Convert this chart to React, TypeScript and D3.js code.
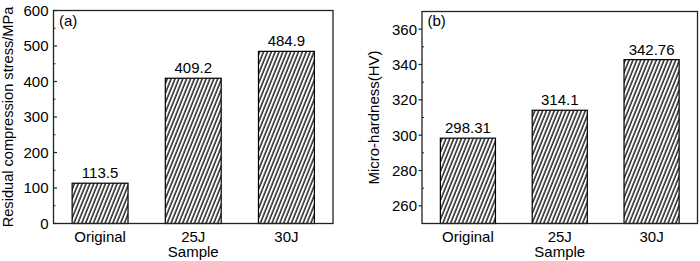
import * as d3 from 'd3';

const samples = ['Original', '25J', '30J'];
const stressValues = [113.5, 409.2, 484.9];
const stressLabels = ['113.5', '409.2', '484.9'];
const hardnessValues = [298.31, 314.1, 342.76];
const hardnessLabels = ['298.31', '314.1', '342.76'];
const stressTicks = [0, 100, 200, 300, 400, 500, 600];
const stressMinor = [50, 150, 250, 350, 450, 550];
const hardnessTicks = [260, 280, 300, 320, 340, 360];
const hardnessMinor = [250, 270, 290, 310, 330, 350, 370];

const FONT = '"Liberation Sans", Arial, sans-serif';

interface PanelProps {
  tag: string;
  left: number;
  right: number;
  top: number;
  bottom: number;
  domain: [number, number];
  values: number[];
  labels: string[];
  ticks: number[];
  minor: number[];
  tickOut: boolean;
  yTitle: string;
  yTitleX: number;
  yTitleSize: number;
}

function Panel(p: PanelProps) {
  const x = d3.scaleBand<string>()
    .domain(samples)
    .range([p.left, p.right])
    .paddingInner(0.4)
    .paddingOuter(0.2);
  const y = d3.scaleLinear().domain(p.domain).range([p.bottom, p.top]);
  const dir = p.tickOut ? -1 : 1;
  const midY = (p.top + p.bottom) / 2;

  return (
    <g fontFamily={FONT} fontSize={15} fill="#000">
      {samples.map((s, i) => (
        <g key={s}>
          <rect
            x={x(s)}
            y={y(p.values[i])}
            width={x.bandwidth()}
            height={y(p.domain[0]) - y(p.values[i])}
            fill="url(#hatch)"
            stroke="#000"
            strokeWidth={1.2}
          />
          <text x={x(s)! + x.bandwidth() / 2} y={y(p.values[i]) - 5} textAnchor="middle">
            {p.labels[i]}
          </text>
          <text x={x(s)! + x.bandwidth() / 2} y={241.5} textAnchor="middle">{s}</text>
        </g>
      ))}
      {p.ticks.map((t) => (
        <g key={t}>
          <line x1={p.left} x2={p.left + dir * 3.5} y1={y(t)} y2={y(t)} stroke="#222" strokeWidth={1.2} />
          <text x={p.left - 5} y={y(t)} dy="0.36em" textAnchor="end">{t}</text>
        </g>
      ))}
      {p.minor.map((t) => (
        <line key={t} x1={p.left} x2={p.left + 2} y1={y(t)} y2={y(t)} stroke="#222" strokeWidth={1} />
      ))}
      <rect
        x={p.left}
        y={p.top}
        width={p.right - p.left}
        height={p.bottom - p.top}
        fill="none"
        stroke="#222"
        strokeWidth={1.3}
      />
      <text x={p.left + 5.5} y={26}>{p.tag}</text>
      <text x={(p.left + p.right) / 2} y={257} textAnchor="middle">Sample</text>
      <text
        transform={`translate(${p.yTitleX},${midY}) rotate(-90)`}
        textAnchor="middle"
        fontSize={p.yTitleSize}
      >
        {p.yTitle}
      </text>
    </g>
  );
}

export default function App() {
  return (
    <div style={{ position: 'fixed', left: 0, top: 0 }}>
      <svg width={700} height={261} style={{ display: 'block', background: '#fff' }}>
        <defs>
          <pattern id="hatch" width={3.6} height={10} patternUnits="userSpaceOnUse" patternTransform="rotate(22)">
            <line x1={1} x2={1} y1={0} y2={10} stroke="#000" strokeWidth={1.3} />
          </pattern>
        </defs>
        <Panel
          tag="(a)"
          left={53.5}
          right={333}
          top={10.5}
          bottom={223.5}
          domain={[0, 600]}
          values={stressValues}
          labels={stressLabels}
          ticks={stressTicks}
          minor={stressMinor}
          tickOut={false}
          yTitle="Residual compression stress/MPa"
          yTitleX={13}
          yTitleSize={14.6}
        />
        <Panel
          tag="(b)"
          left={422}
          right={697.5}
          top={11.5}
          bottom={223.5}
          domain={[250, 370]}
          values={hardnessValues}
          labels={hardnessLabels}
          ticks={hardnessTicks}
          minor={hardnessMinor}
          tickOut={true}
          yTitle="Micro-hardness(HV)"
          yTitleX={379}
          yTitleSize={15}
        />
      </svg>
    </div>
  );
}
